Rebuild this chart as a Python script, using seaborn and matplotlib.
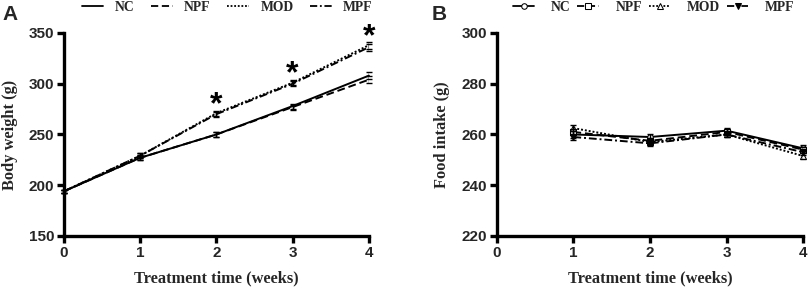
import numpy as np
import pandas as pd
import matplotlib
matplotlib.use("Agg")
import matplotlib.pyplot as plt
import seaborn as sns

# groups and styles
groups = ["NC", "NPF", "MOD", "MPF"]
dashes = {"NC": "", "NPF": (4, 2), "MOD": (1, 1), "MPF": (4, 1.5, 1, 1.5)}
markers = {"NC": "o", "NPF": "s", "MOD": "^", "MPF": "v"}

# panel A: body weight (g), mean and sem by week
weeks_a = [0, 1, 2, 3, 4]
bw_nc = [194, 227, 250, 278, 308]
bw_npf = [194, 227, 250, 277, 304]
bw_mod = [194, 229, 271, 301, 338]
bw_mpf = [194, 229, 270, 300, 336]
bw_sem = [1.5, 2.5, 2.5, 2.5, 3.5]

# panel B: food intake (g)
weeks_b = [1, 2, 3, 4]
fi_nc = [260.0, 259.0, 261.5, 254.5]
fi_npf = [261.0, 257.5, 261.0, 254.0]
fi_mod = [262.5, 257.0, 260.0, 251.5]
fi_mpf = [259.0, 256.5, 260.0, 253.0]
fi_sem = [1.2, 1.2, 1.0, 1.2]

star_weeks = [2, 3, 4]

df_a = pd.DataFrame({
    "week": weeks_a * 4,
    "value": bw_nc + bw_npf + bw_mod + bw_mpf,
    "group": sum([[g] * len(weeks_a) for g in groups], []),
})
df_b = pd.DataFrame({
    "week": weeks_b * 4,
    "value": fi_nc + fi_npf + fi_mod + fi_mpf,
    "group": sum([[g] * len(weeks_b) for g in groups], []),
})

sns.set_theme(style="ticks")
plt.rcParams["font.family"] = ["Liberation Sans", "DejaVu Sans"]

fig = plt.figure(figsize=(8.09, 2.92), dpi=100)
ax_a = fig.add_axes([0.079, 0.192, 0.377, 0.695])
ax_b = fig.add_axes([0.614, 0.192, 0.379, 0.695])

serif = {"family": "Liberation Serif", "weight": "bold", "size": 11.8}

# panel A
sns.lineplot(data=df_a, x="week", y="value", hue="group", style="group",
             palette=["black"] * 4, dashes=dashes, linewidth=1.4,
             ax=ax_a, legend=True)
for g in groups:
    sub = df_a[df_a.group == g]
    ax_a.errorbar(sub.week, sub.value, yerr=bw_sem, fmt="none", ecolor="black",
                  elinewidth=1, capsize=2.5, capthick=1)
for w in star_weeks:
    top = df_a[(df_a.week == w) & (df_a.group == "MOD")].value.iloc[0]
    ax_a.text(w, top + 8, "*", ha="center", va="center", fontsize=23,
              fontweight="bold", color="black")
ax_a.set_xlim(0, 4)
ax_a.set_ylim(150, 350)
ax_a.set_xticks([0, 1, 2, 3, 4])
ax_a.set_yticks([150, 200, 250, 300, 350])
ax_a.set_xlabel("Treatment time (weeks)", fontdict=serif)
ax_a.set_ylabel("Body weight (g)", fontdict=serif)

# panel B
sns.lineplot(data=df_b, x="week", y="value", hue="group", style="group",
             palette=["black"] * 4, dashes=dashes, markers=markers,
             markersize=4, linewidth=1.4, ax=ax_b, legend=True)
for line in ax_b.lines:
    if line.get_marker() in ("o", "s", "^"):
        line.set_markerfacecolor("white")
    line.set_markeredgecolor("black")
for g in groups:
    sub = df_b[df_b.group == g]
    ax_b.errorbar(sub.week, sub.value, yerr=fi_sem, fmt="none", ecolor="black",
                  elinewidth=1, capsize=2.5, capthick=1)
ax_b.set_xlim(0, 4)
ax_b.set_ylim(220, 300)
ax_b.set_xticks([0, 1, 2, 3, 4])
ax_b.set_yticks([220, 240, 260, 280, 300])
ax_b.set_xlabel("Treatment time (weeks)", fontdict=serif)
ax_b.set_ylabel("Food intake (g)", fontdict=serif)

# legend: x start, column spacing, handle-text pad
leg_opts = {ax_a: (0.058, 1.2, 0.85), ax_b: (0.052, 0.5, 1.2)}
for ax, letter, lx in [(ax_a, "A", 0.003), (ax_b, "B", 0.533)]:
    for s in ["top", "right"]:
        ax.spines[s].set_visible(False)
    for s in ["left", "bottom"]:
        ax.spines[s].set_linewidth(2.4)
        ax.spines[s].set_color("black")
    ax.tick_params(width=2.4, length=5, color="black", labelsize=11, pad=2)
    for lab in ax.get_xticklabels() + ax.get_yticklabels():
        lab.set_fontweight("bold")
    ax.xaxis.labelpad = 8
    ax.yaxis.labelpad = 8
    for ln in ax.lines:
        ln.set_clip_on(False)
    x0, cs, tp = leg_opts[ax]
    leg = ax.legend(ncol=4, loc="lower left", bbox_to_anchor=(x0, 1.095),
                    frameon=False, handlelength=1.6, columnspacing=cs,
                    borderaxespad=0, borderpad=0, handletextpad=tp,
                    prop={"family": "Liberation Serif", "weight": "bold", "size": 9.8})
    for h in leg.legend_handles:
        h.set_color("black")
        h.set_linewidth(1.3)
    fig.text(lx, 0.932, letter, fontsize=15, fontweight="bold",
             ha="left", va="baseline")

fig.savefig("out.png", dpi=100)
